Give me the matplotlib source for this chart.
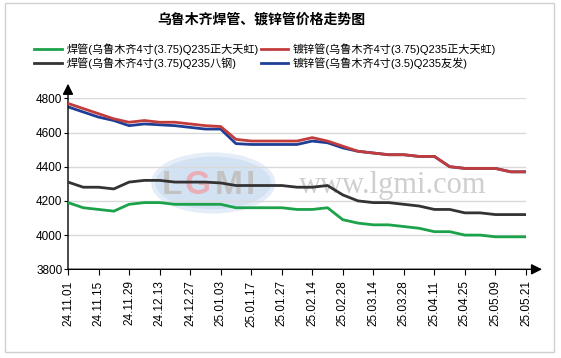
import matplotlib
matplotlib.use("Agg")
import matplotlib.pyplot as plt
from matplotlib.patches import Rectangle, Ellipse

plt.rcParams['font.family'] = ['Liberation Sans', 'Noto Sans CJK SC', 'DejaVu Sans']

# ======================
# DATA (read at each date label and halfway between)
# ======================
dates = ["24.11.01", "24.11.15", "24.11.29", "24.12.13", "24.12.27", "25.01.03",
         "25.01.17", "25.01.27", "25.02.14", "25.02.28", "25.03.14", "25.03.28",
         "25.04.11", "25.04.25", "25.05.09", "25.05.21"]

weld_dtth = [4190, 4160, 4150, 4140, 4180, 4190, 4190, 4180, 4180, 4180, 4180, 4160,
             4160, 4160, 4160, 4150, 4150, 4160, 4090, 4070, 4060, 4060, 4050, 4040,
             4020, 4020, 4000, 4000, 3990, 3990, 3990]
galv_dtth = [4770, 4740, 4710, 4680, 4660, 4670, 4660, 4660, 4650, 4640, 4635, 4560,
             4550, 4550, 4550, 4550, 4570, 4550, 4520, 4490, 4480, 4470, 4470, 4460,
             4460, 4400, 4390, 4390, 4390, 4370, 4370]
weld_bg = [4310, 4280, 4280, 4270, 4310, 4320, 4320, 4310, 4310, 4310, 4305, 4290,
           4290, 4290, 4290, 4280, 4280, 4290, 4235, 4200, 4190, 4190, 4180, 4170,
           4150, 4150, 4130, 4130, 4120, 4120, 4120]
galv_yf = [4750, 4720, 4690, 4670, 4640, 4650, 4645, 4640, 4630, 4620, 4620, 4535,
           4530, 4530, 4530, 4530, 4550, 4540, 4510, 4490, 4480, 4470, 4470, 4460,
           4460, 4400, 4390, 4390, 4390, 4370, 4370]

labels = ["焊管(乌鲁木齐4寸(3.75)Q235正大天虹)", "镀锌管(乌鲁木齐4寸(3.75)Q235正大天虹)",
          "焊管(乌鲁木齐4寸(3.75)Q235八钢)", "镀锌管(乌鲁木齐4寸(3.5)Q235友发)"]
colors = ["#1ba24b", "#c23c3c", "#333333", "#1f3f96"]

x = list(range(len(weld_dtth)))

# ======================
# PLOT
# ======================
fig = plt.figure(figsize=(5.61, 3.58), dpi=100)
fig.patches.append(Rectangle((5 / 561, 1 - 352 / 358), 549 / 561, 349 / 358,
                             transform=fig.transFigure, fill=False,
                             edgecolor="#d0d0d0", lw=1))

ax = fig.add_axes([68 / 561, 1 - 269.3 / 358, 458 / 561, 171 / 358])

# watermark
ax.add_patch(Ellipse((0.317, 0.505), 0.262, 0.333, transform=ax.transAxes,
                     facecolor="#d3e2f2", edgecolor="#e4edf8", lw=3, zorder=0))
wm_letters = ["L", "G", "M", "I"]
wm_colors = ["#c2c2c2", "#e9aeb8", "#c2c2c2", "#c2c2c2"]
wm_pos = [0.228, 0.284, 0.350, 0.398]
for ch, c, px in zip(wm_letters, wm_colors, wm_pos):
    ax.text(px, 0.49, ch, transform=ax.transAxes, ha="center",
            va="center", fontsize=24, fontweight="bold", color=c, zorder=0)
ax.text(0.71, 0.49, "www.lgmi.com", transform=ax.transAxes, ha="center", va="center",
        fontsize=22, family="Liberation Serif", color="#cfcfcf", zorder=0)

series = [weld_dtth, galv_dtth, weld_bg, galv_yf]
zorders = [4, 4, 4, 3]
lines = []
for vals, lab, col, z in zip(series, labels, colors, zorders):
    ln, = ax.plot(x, vals, color=col, lw=2, label=lab, zorder=z)
    lines.append(ln)

ax.set_xlim(0, 30)
ax.set_ylim(3800, 4800)
ax.set_yticks([3800, 4000, 4200, 4400, 4600, 4800])
ax.set_xticks(range(0, 31, 2))
ax.set_xticklabels(dates, rotation=90, fontsize=8.5)
ax.tick_params(axis="y", labelsize=8.5, length=3, pad=1)
ax.tick_params(axis="x", length=4, pad=4, direction="out")
ax.grid(axis="y", color="#d9d9d9", lw=1)
ax.set_axisbelow(True)
for s in ax.spines.values():
    s.set_visible(False)

# axes with arrows
ax.annotate("", xy=(1.035, 0), xytext=(0, 0), xycoords="axes fraction",
            arrowprops=dict(arrowstyle="-|>", color="k", lw=1, mutation_scale=16,
                            shrinkA=0, shrinkB=0), annotation_clip=False)
ax.annotate("", xy=(0, 1.085), xytext=(0, 0), xycoords="axes fraction",
            arrowprops=dict(arrowstyle="-|>", color="k", lw=1, mutation_scale=16,
                            shrinkA=0, shrinkB=0), annotation_clip=False)

fig.text(261 / 561, 1 - 20 / 358, "乌鲁木齐焊管、镀锌管价格走势图", ha="center", va="center",
         fontsize=10, fontweight="bold", family=["Noto Sans CJK SC"])

# legend filled row by row: green, red / black, blue
order = [0, 2, 1, 3]
fig.legend(handles=[lines[i] for i in order], loc="upper left",
           bbox_to_anchor=(34 / 561, 1 - 43 / 358),
           ncol=2, frameon=False, fontsize=8, handlelength=2.5, handletextpad=0.4,
           columnspacing=0.2, labelspacing=0.25, borderpad=0, borderaxespad=0)

fig.savefig("out.png", dpi=100)
